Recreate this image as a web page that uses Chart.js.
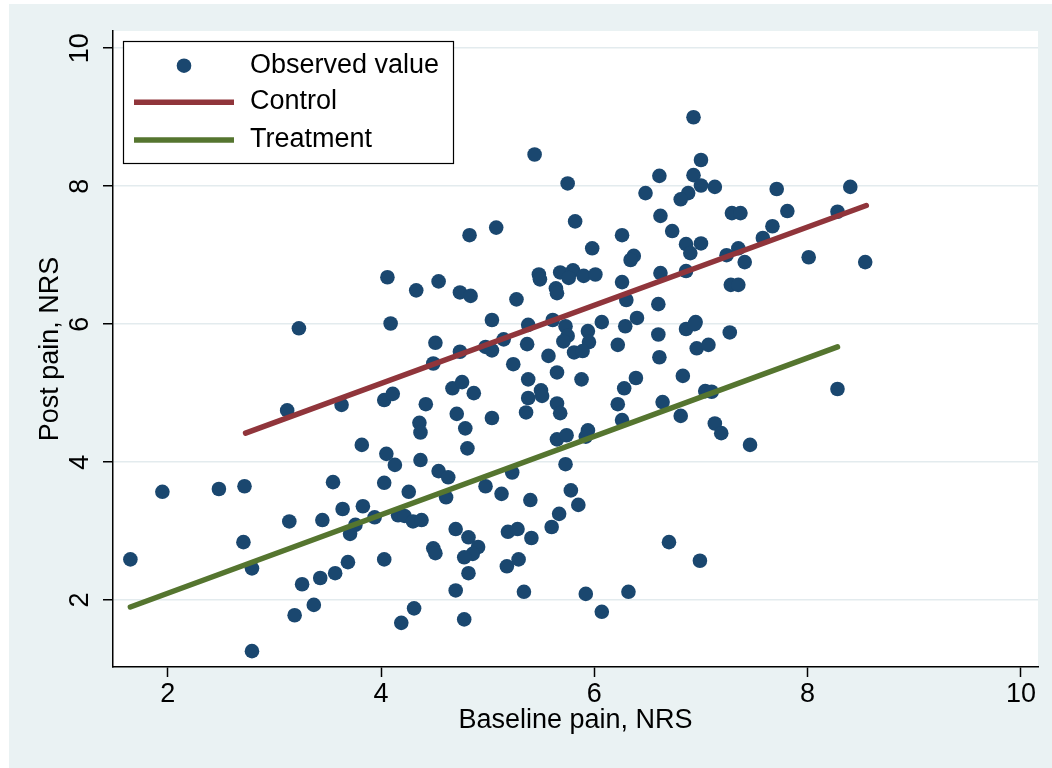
<!DOCTYPE html>
<html>
<head>
<meta charset="utf-8">
<script src="https://cdn.jsdelivr.net/npm/chart.js@4/dist/chart.umd.min.js"></script>
<style>
  html, body { margin: 0; padding: 0; background: #fff; }
  #wrap { width: 1052px; height: 768px; position: relative; }
</style>
</head>
<body>
<div id="wrap"><canvas id="chart" width="1052" height="768"></canvas></div>
<script>
// observed values (baseline vs post pain, NRS)
const baselinePain = [
  1.65, 1.95, 2.48, 2.72, 2.71, 2.79, 2.79, 3.14, 3.45, 3.55, 3.64, 3.83, 3.94, 3.76, 3.71, 4.03,
  3.26, 3.43, 3.57, 3.69, 3.19, 3.37, 4.03, 4.19, 4.16, 4.06, 3.23, 4.09, 3.12, 3.63, 4.03, 4.11,
  3.82, 4.05, 4.13, 4.33, 4.54, 4.74, 4.84, 5.27, 5.48, 5.49, 5.68, 5.80, 5.76, 5.90, 6.01, 5.98,
  5.64, 5.65, 6.26, 6.30, 5.04, 5.38, 5.61, 5.73, 5.75, 5.94, 6.07, 6.29, 4.51, 4.74, 4.98, 5.04,
  5.15, 5.37, 5.71, 5.95, 5.81, 5.89, 6.22, 4.49, 5.57, 5.24, 5.65, 5.38, 5.88, 6.28, 4.67, 4.76,
  4.87, 4.42, 4.71, 4.79, 5.04, 4.36, 4.37, 5.38, 5.50, 5.51, 5.36, 5.65, 5.68, 6.22, 6.26, 5.65,
  5.74, 5.94, 5.92, 4.81, 4.37, 4.26, 4.54, 4.63, 4.61, 4.98, 5.23, 5.13, 5.40, 5.73, 5.78, 5.85,
  5.67, 5.60, 4.22, 4.30, 4.38, 4.70, 4.82, 4.91, 4.86, 4.78, 4.49, 4.51, 5.19, 5.28, 5.41, 5.18,
  5.29, 4.82, 4.70, 5.34, 5.92, 6.07, 6.32, 4.31, 4.78, 6.93, 7.00, 6.61, 6.93, 7.00, 7.13, 6.48,
  6.88, 6.81, 7.71, 8.40, 7.29, 7.37, 7.81, 8.28, 6.62, 6.26, 6.73, 7.67, 7.58, 6.86, 7.00, 6.90,
  6.37, 6.34, 7.24, 7.35, 7.41, 8.01, 8.54, 6.62, 6.86, 7.28, 7.35, 6.60, 6.40, 6.95, 6.60, 6.86,
  6.94, 7.27, 6.96, 7.07, 6.61, 6.39, 6.83, 6.64, 7.04, 7.10, 6.81, 7.13, 7.19, 7.46, 6.70, 6.99,
  8.28, 5.44, 5.75, 5.82, 4.83, 5.08
];
const postPain = [
  2.59, 3.57, 3.61, 3.65, 2.84, 2.46, 1.26, 3.14, 3.16, 3.71, 3.32, 3.36, 3.20, 3.09, 2.96, 3.70,
  2.23, 2.32, 2.39, 2.55, 1.78, 1.93, 2.59, 1.67, 3.23, 6.68, 5.94, 6.01, 4.75, 4.83, 4.90, 4.99,
  4.25, 4.12, 3.96, 6.49, 6.62, 6.46, 6.41, 6.36, 6.72, 6.65, 6.75, 6.78, 6.67, 6.70, 6.72, 7.10,
  6.52, 6.45, 6.61, 6.35, 6.06, 5.99, 6.06, 5.97, 5.83, 5.90, 6.03, 5.97, 5.73, 5.60, 5.67, 5.62,
  5.78, 5.71, 5.75, 5.74, 5.59, 5.61, 5.70, 5.43, 5.54, 5.42, 5.30, 5.20, 5.20, 5.07, 5.07, 5.16,
  5.00, 4.84, 4.70, 4.49, 4.64, 4.57, 4.43, 4.93, 5.04, 4.96, 4.72, 4.85, 4.71, 4.84, 4.61, 4.33,
  4.39, 4.46, 4.37, 4.20, 4.03, 3.57, 3.87, 3.78, 3.49, 3.65, 3.85, 3.54, 3.45, 3.97, 3.59, 3.38,
  3.25, 3.06, 3.22, 3.14, 3.16, 3.03, 2.91, 2.77, 2.67, 2.62, 2.75, 2.68, 2.99, 3.03, 2.90, 2.49,
  2.59, 2.39, 2.14, 2.12, 2.09, 1.83, 2.12, 1.88, 1.72, 9.00, 8.38, 8.15, 8.16, 8.01, 7.99, 7.90,
  7.90, 7.81, 7.96, 7.99, 7.61, 7.61, 7.64, 7.63, 7.57, 7.29, 7.35, 7.42, 7.25, 7.16, 7.17, 7.03,
  6.99, 6.93, 7.00, 7.10, 6.90, 6.97, 6.90, 6.74, 6.77, 6.57, 6.57, 6.29, 6.09, 6.03, 5.85, 5.93,
  6.00, 5.88, 5.65, 5.70, 5.52, 5.22, 5.25, 4.87, 5.03, 5.02, 4.67, 4.56, 4.42, 4.25, 2.84, 2.57,
  5.06, 8.46, 8.04, 7.49, 7.29, 7.40
];

// fitted lines by group
const controlFitX = [2.73, 8.55];
const controlFitY = [4.42, 7.72];
const treatmentFitX = [1.65, 8.28];
const treatmentFitY = [1.90, 5.67];

const seriesLabels = ['Observed value', 'Control', 'Treatment'];
const xTicks = [2, 4, 6, 8, 10];
const yTicks = [2, 4, 6, 8, 10];

const FONT = "'Liberation Sans', Arial, sans-serif";
const navy = '#1a476f';
const maroon = '#90353b';
const green = '#55752f';
const bgColor = '#eaf2f3';

const toPoints = (xs, ys) => xs.map((x, i) => ({ x: x, y: ys[i] }));

// stata-like background: outer panel + white plot region
const backgroundPlugin = {
  id: 'stataBackground',
  beforeDraw(chart) {
    const { ctx, chartArea } = chart;
    ctx.save();
    ctx.fillStyle = '#fff';
    ctx.fillRect(0, 0, chart.width, chart.height);
    ctx.fillStyle = bgColor;
    ctx.fillRect(9, 4, chart.width - 9, chart.height - 4);
    ctx.fillStyle = '#fff';
    ctx.fillRect(chartArea.left, chartArea.top, chartArea.right - chartArea.left, chartArea.bottom - chartArea.top);
    ctx.restore();
  }
};

// vertical y tick labels, like Stata draws them
const yLabelPlugin = {
  id: 'rotatedYLabels',
  afterDraw(chart) {
    const { ctx } = chart;
    const y = chart.scales.y;
    ctx.save();
    ctx.fillStyle = '#000';
    ctx.font = '27px ' + FONT;
    ctx.textAlign = 'center';
    ctx.textBaseline = 'alphabetic';
    yTicks.forEach(v => {
      ctx.save();
      ctx.translate(88, y.getPixelForValue(v));
      ctx.rotate(-Math.PI / 2);
      ctx.fillText(String(v), 0, 0);
      ctx.restore();
    });
    ctx.restore();
  }
};

// legend box in the upper left of the plot
const legendPlugin = {
  id: 'boxLegend',
  afterDatasetsDraw(chart) {
    const { ctx } = chart;
    const ds = chart.data.datasets;
    ctx.save();
    ctx.fillStyle = '#fff';
    ctx.fillRect(123, 41, 331, 123);
    ctx.strokeStyle = '#000';
    ctx.lineWidth = 1.2;
    ctx.strokeRect(123.5, 41.5, 330, 122);
    const rows = [65.7, 102.3, 140];
    ds.forEach((d, i) => {
      const yy = rows[i];
      if (i === 0) {
        ctx.fillStyle = d.backgroundColor;
        ctx.beginPath();
        ctx.arc(184, yy, 7.3, 0, Math.PI * 2);
        ctx.fill();
      } else {
        ctx.strokeStyle = d.borderColor;
        ctx.lineWidth = 5.5;
        ctx.lineCap = 'butt';
        ctx.beginPath();
        ctx.moveTo(134, yy);
        ctx.lineTo(234, yy);
        ctx.stroke();
      }
      ctx.fillStyle = '#000';
      ctx.font = '27px ' + FONT;
      ctx.textAlign = 'left';
      ctx.textBaseline = 'alphabetic';
      ctx.fillText(d.label, 250, yy + 7);
    });
    ctx.restore();
  }
};

const ctx = document.getElementById('chart').getContext('2d');
new Chart(ctx, {
  type: 'scatter',
  data: {
    datasets: [
      {
        label: seriesLabels[0],
        data: toPoints(baselinePain, postPain),
        backgroundColor: navy,
        borderColor: navy,
        borderWidth: 0,
        pointRadius: 7.3,
        order: 3
      },
      {
        label: seriesLabels[1],
        type: 'line',
        data: toPoints(controlFitX, controlFitY),
        borderColor: maroon,
        backgroundColor: maroon,
        borderWidth: 5.5,
        borderCapStyle: 'round',
        pointRadius: 0,
        fill: false,
        order: 1
      },
      {
        label: seriesLabels[2],
        type: 'line',
        data: toPoints(treatmentFitX, treatmentFitY),
        borderColor: green,
        backgroundColor: green,
        borderWidth: 5.5,
        borderCapStyle: 'round',
        pointRadius: 0,
        fill: false,
        order: 2
      }
    ]
  },
  options: {
    responsive: false,
    animation: false,
    events: [],
    layout: { padding: { left: 9, top: 31, right: 14, bottom: 0 } },
    plugins: {
      legend: { display: false },
      tooltip: { enabled: false }
    },
    scales: {
      x: {
        type: 'linear',
        min: 1.487,
        max: 10.16,
        afterBuildTicks: s => { s.ticks = xTicks.map(v => ({ value: v })); },
        afterFit: s => { s.height = 101; },
        border: { color: '#000', width: 1.5 },
        grid: { drawOnChartArea: false, tickColor: '#000', tickLength: 10, tickWidth: 1.5 },
        ticks: { color: '#000', font: { family: FONT, size: 27 }, padding: 1, maxRotation: 0 },
        title: {
          display: true,
          text: 'Baseline pain, NRS',
          color: '#000',
          font: { family: FONT, size: 27 },
          padding: { top: 0, bottom: 31 }
        }
      },
      y: {
        type: 'linear',
        min: 1.03,
        max: 10.25,
        afterBuildTicks: s => { s.ticks = yTicks.map(v => ({ value: v })); },
        afterFit: s => { s.width = 104; },
        border: { color: '#000', width: 1.5 },
        grid: { color: '#e3ebee', lineWidth: 1.5, tickColor: '#000', tickLength: 10, tickWidth: 1.5 },
        ticks: { display: false },
        title: {
          display: true,
          text: 'Post pain, NRS',
          color: '#000',
          font: { family: FONT, size: 27 },
          padding: { top: 25, bottom: 0 }
        }
      }
    }
  },
  plugins: [backgroundPlugin, yLabelPlugin, legendPlugin]
});
</script>
</body>
</html>
